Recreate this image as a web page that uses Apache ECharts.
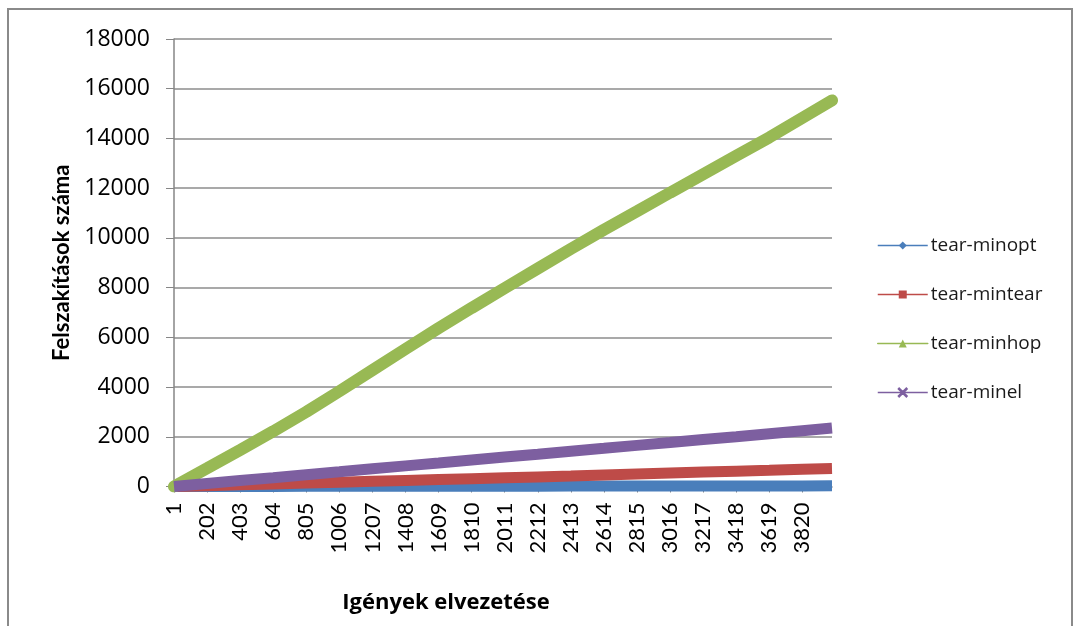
<!DOCTYPE html>
<html>
<head>
<meta charset="utf-8">
<script src="https://cdn.jsdelivr.net/npm/echarts@6/dist/echarts.min.js"></script>
<style>
  html, body { margin: 0; padding: 0; background: #ffffff; }
  #chart { width: 1081px; height: 626px; }
</style>
</head>
<body>
<div id="chart"></div>
<script>
// Request index (1 .. 4000); every 201st one is labelled on the x axis
const categories = Array.from({ length: 4000 }, (_, i) => String(i + 1));

// Requests at which the cumulative counts are sampled
const sampleAt = ['1', '202', '403', '604', '805', '1006', '1207', '1408', '1609', '1810',
  '2011', '2212', '2413', '2614', '2815', '3016', '3217', '3418', '3619', '3820', '4000'];

// Cumulative number of tear-ups for each strategy
const minopt  = [0, 2, 3, 5, 6, 8, 9, 10, 12, 13, 14, 15, 17, 18, 19, 20, 22, 23, 24, 25, 26];
const mintear = [0, 35, 70, 105, 140, 175, 210, 245, 280, 315, 350, 385, 420, 460, 500, 540, 580, 615, 650, 690, 720];
const minhop  = [0, 730, 1470, 2220, 3000, 3830, 4680, 5530, 6370, 7180, 7980, 8770, 9560,
  10330, 11070, 11820, 12560, 13300, 14040, 14830, 15530];
const minel   = [0, 120, 240, 355, 475, 590, 710, 830, 945, 1065, 1185, 1300, 1420, 1535,
  1655, 1770, 1890, 2005, 2125, 2245, 2350];

const seriesNames = ['tear-minopt', 'tear-mintear', 'tear-minhop', 'tear-minel'];
const seriesColors = ['#4a7ebb', '#be4b48', '#98b954', '#7d5fa0'];
const seriesSymbols = ['diamond', 'rect', 'triangle',
  'path://M0.1,0 L2,1.9 L1.9,2 L0,0.1 Z M1.9,0 L2,0.1 L0.1,2 L0,1.9 Z'];

// Horizontal text uses a wider face, rotated text a narrower one
const WIDE = '"Open Sans", Lato, sans-serif';
const NARROW = 'Lato, "Open Sans", sans-serif';

function pairs(values) {
  return values.map((v, i) => [sampleAt[i], v]);
}

const chart = echarts.init(document.getElementById('chart'), null, { renderer: 'canvas' });

const seriesValues = [minopt, mintear, minhop, minel];

chart.setOption({
  backgroundColor: '#ffffff',
  animation: false,
  textStyle: { fontFamily: WIDE },
  graphic: [{
    type: 'rect',
    shape: { x: 8, y: 9, width: 1064, height: 640 },
    style: { fill: 'none', stroke: '#8a8a8a', lineWidth: 2 },
    silent: true
  }],
  grid: { left: 174, right: 249, top: 39, bottom: 139.5 },
  legend: {
    orient: 'vertical',
    left: 872,
    top: 231,
    itemWidth: 50,
    itemHeight: 10,
    itemGap: 30,
    lineStyle: { width: 1.5 },
    textStyle: { fontFamily: WIDE, fontSize: 19, color: '#1a1a1a', padding: [0, 0, 0, -2] },
    data: seriesNames
  },
  xAxis: {
    type: 'category',
    data: categories,
    boundaryGap: false,
    name: 'Igények elvezetése',
    nameLocation: 'middle',
    nameGap: 105,
    nameTextStyle: {
      fontFamily: WIDE, fontSize: 22, fontWeight: 'bold', color: '#000',
      padding: [0, 114, 0, 0]
    },
    axisLine: { lineStyle: { color: '#868686', width: 1.5 } },
    axisTick: { show: true, interval: 200, length: 6, lineStyle: { color: '#868686' } },
    axisLabel: {
      interval: 200,
      rotate: 90,
      margin: 16,
      fontFamily: NARROW,
      fontSize: 22,
      color: '#000'
    },
    splitLine: { show: false }
  },
  yAxis: {
    type: 'value',
    min: 0,
    max: 18000,
    interval: 2000,
    name: 'Felszakítások száma',
    nameLocation: 'middle',
    nameGap: 100,
    nameTextStyle: { fontFamily: NARROW, fontSize: 22, fontWeight: 'bold', color: '#000' },
    axisLine: { show: true, lineStyle: { color: '#868686', width: 1.5 } },
    axisTick: { show: true, length: 8, inside: false, lineStyle: { color: '#868686' } },
    axisLabel: {
      margin: 24, fontFamily: WIDE, fontSize: 23, color: '#000',
      formatter: (v) => String(v)
    },
    splitLine: { lineStyle: { color: '#8c8c8c', width: 1.5 } }
  },
  series: seriesNames.map((name, i) => ({
    name: name,
    type: 'line',
    data: pairs(seriesValues[i]),
    symbol: seriesSymbols[i],
    symbolSize: 9,
    showSymbol: false,
    color: seriesColors[i],
    lineStyle: { width: i === 2 ? 12 : 11, color: seriesColors[i], cap: i === 2 ? 'round' : 'butt' },
    itemStyle: { color: seriesColors[i], borderColor: seriesColors[i], borderWidth: i === 3 ? 1 : 0 },
    emphasis: { disabled: true },
    z: 2 + i
  }))
});
</script>
</body>
</html>
